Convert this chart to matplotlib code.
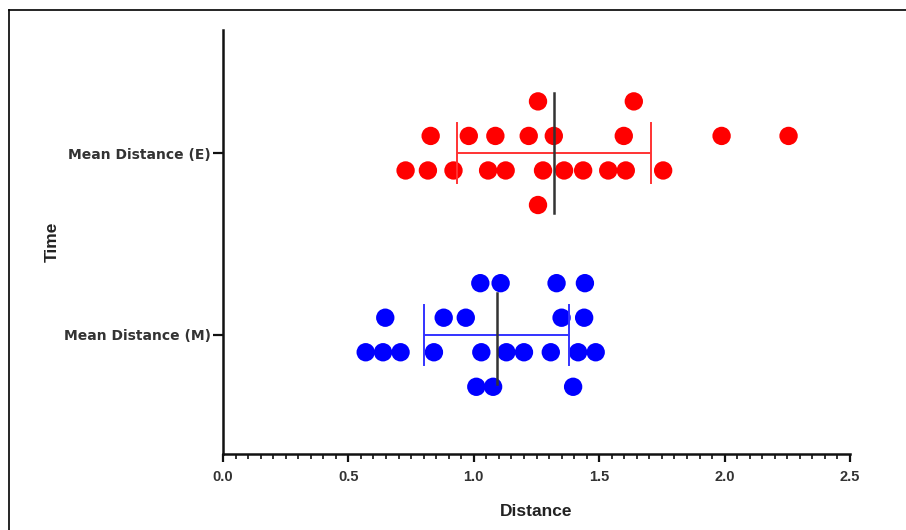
import numpy as np
import matplotlib
matplotlib.use("Agg")
import matplotlib.pyplot as plt
from matplotlib.lines import Line2D
from matplotlib.ticker import MultipleLocator

plt.rcParams['font.family'] = ['Liberation Sans', 'DejaVu Sans']

categories = ["Mean Distance (M)", "Mean Distance (E)"]

red_x = [1.256, 1.638,
         0.828, 0.980, 1.086, 1.219, 1.319, 1.598, 1.988, 2.255,
         0.728, 0.817, 0.919, 1.057, 1.127, 1.276, 1.360, 1.436, 1.536, 1.606, 1.755,
         1.256]
red_lane = [1.5, 1.5] + [0.5] * 8 + [-0.5] * 11 + [-1.5]

blue_x = [1.026, 1.107, 1.330, 1.443,
          0.647, 0.880, 0.968, 1.350, 1.440,
          0.569, 0.638, 0.708, 0.841, 1.030, 1.130, 1.200, 1.307, 1.416, 1.486,
          1.010, 1.077, 1.396]
blue_lane = [1.5] * 4 + [0.5] * 5 + [-0.5] * 10 + [-1.5] * 3

x_ticks = [0.0, 0.5, 1.0, 1.5, 2.0, 2.5]

groups = [
    (blue_x, blue_lane, 0, "#0000ff", "#3333ff", (-0.23, 0.27)),
    (red_x, red_lane, 1, "#ff0000", "#ff3333", (-0.33, 0.33)),
]

fig = plt.figure(figsize=(9.06, 5.30), dpi=100)
ax = fig.add_axes([223 / 906, 1 - 453.5 / 530, (850 - 223) / 906, (453.5 - 30.5) / 530])

lane_step = 0.19
for xs, lanes, ypos, col, ecol, (mlo, mhi) in groups:
    xs = np.array(xs)
    ys = ypos + np.array(lanes) * lane_step
    ax.scatter(xs, ys, s=175, color=col, edgecolors='none', zorder=2, clip_on=False)
    m = xs.mean()
    sd = xs.std(ddof=1)
    ax.errorbar([m], [ypos], xerr=[[sd], [sd]], fmt='none', ecolor=ecol,
                elinewidth=1.4, capsize=0, zorder=3)
    for cx in (m - sd, m + sd):
        ax.plot([cx, cx], [ypos - 0.165, ypos + 0.165], color=ecol, lw=1.4, zorder=3)
    ax.plot([m, m], [ypos - mhi, ypos - mlo], color="#333333", lw=1.8, zorder=4)

ax.set_xlim(0, 2.5)
ax.set_ylim(-0.652, 1.675)
ax.set_xticks(x_ticks)
ax.set_xticklabels([f"{t:.1f}" for t in x_ticks])
ax.xaxis.set_minor_locator(MultipleLocator(0.05))
ax.set_yticks([0, 1])
ax.set_yticklabels(categories)

for s in ['top', 'right']:
    ax.spines[s].set_visible(False)
for s in ['left', 'bottom']:
    ax.spines[s].set_linewidth(1.8)
    ax.spines[s].set_color('#111111')

ax.tick_params(axis='x', which='major', length=6, width=1.6, labelsize=10.5, pad=6, colors='#111111')
ax.tick_params(axis='x', which='minor', length=3.5, width=1.2, colors='#111111')
ax.tick_params(axis='y', which='major', length=7, width=1.6, pad=1.5, colors='#111111')
for lab in ax.get_xticklabels():
    lab.set_fontweight('bold')
    lab.set_color('#333333')
for lab in ax.get_yticklabels():
    lab.set_fontweight('bold')
    lab.set_color('#333333')
    lab.set_fontfamily(['DejaVu Sans'])
    lab.set_fontsize(10)

ax.set_xlabel("Distance", fontsize=12.5, fontweight='bold', color='#222222', labelpad=14)
ax.set_ylabel("Time", fontsize=12.5, fontweight='bold', color='#222222')
ax.yaxis.set_label_coords((60 - 223) / (850 - 223), 0.5)

# outer frame (top and left edges)
bx = 8.5 / 906
by = 1 - 9.5 / 530
fig.add_artist(Line2D([bx, bx], [0, by], transform=fig.transFigure, color='black', lw=1.2))
fig.add_artist(Line2D([bx, 1], [by, by], transform=fig.transFigure, color='black', lw=1.2))

fig.savefig("out.png", dpi=100)
